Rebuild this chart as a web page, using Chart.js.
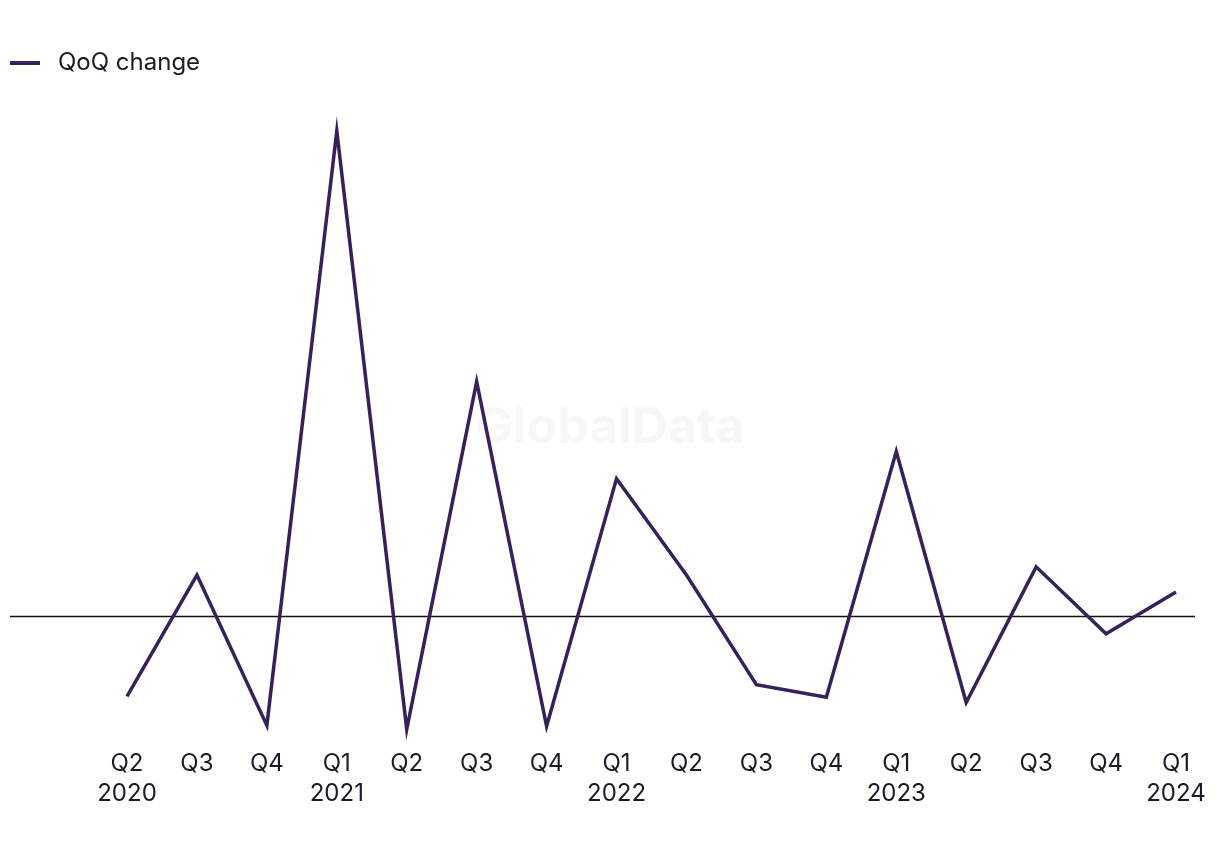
<!DOCTYPE html>
<html>
<head>
<meta charset="utf-8">
<script src="https://cdn.jsdelivr.net/npm/chart.js@4.4.1/dist/chart.umd.min.js"></script>
<style>
  html, body { margin: 0; padding: 0; background: #ffffff; }
  #wrap { width: 1220px; height: 850px; position: relative; }
</style>
</head>
<body>
<div id="wrap"><canvas id="c" width="1220" height="850"></canvas></div>
<script>
const quarters = ["Q2","Q3","Q4","Q1","Q2","Q3","Q4","Q1","Q2","Q3","Q4","Q1","Q2","Q3","Q4","Q1"];
const years    = ["2020","","","2021","","","","2022","","","","2023","","","","2024"];
const qoqChange = [-16.6, 8.4, -22.6, 100.0, -23.4, 48.3, -22.8, 28.3, 8.4, -14.2, -16.8, 33.9, -17.9, 10.1, -3.7, 4.9];
const seriesName = "QoQ change";

const labels = quarters.map((q, i) => years[i] ? [q, years[i]] : [q]);

const lineColor = "#37215a";
const textColor = "#1a1a28";
const fontFamily = "Inter, 'Noto Sans', sans-serif";

// legend marker: a 30px line inside a 36px-wide image
const marker = document.createElement("canvas");
marker.width = 36; marker.height = 4;
(function () {
  const m = marker.getContext("2d");
  m.fillStyle = lineColor;
  m.fillRect(0, 0, 30, 4);
})();

const extras = {
  id: "extras",
  beforeDatasetsDraw(chart) {
    const { ctx, chartArea, scales } = chart;
    ctx.save();
    ctx.font = "bold 50px " + fontFamily;
    ctx.fillStyle = "rgba(0,0,0,0.03)";
    ctx.textAlign = "center";
    ctx.textBaseline = "middle";
    ctx.fillText("GlobalData", 610, 428);
    const y0 = Math.round(scales.y.getPixelForValue(0)) + 0.5;
    ctx.strokeStyle = "#111111";
    ctx.lineWidth = 1.5;
    ctx.beginPath();
    ctx.moveTo(10, y0);
    ctx.lineTo(chartArea.right + 19, y0);
    ctx.stroke();
    ctx.restore();
  }
};

new Chart(document.getElementById("c"), {
  type: "line",
  data: {
    labels: labels,
    datasets: [{
      label: seriesName,
      data: qoqChange,
      borderColor: lineColor,
      backgroundColor: lineColor,
      borderWidth: 3.5,
      pointRadius: 0,
      pointStyle: marker,
      tension: 0,
      fill: false,
      clip: false
    }]
  },
  options: {
    responsive: false,
    animation: false,
    devicePixelRatio: 1,
    layout: { padding: { top: 41, right: 44, bottom: 37, left: 0 } },
    plugins: {
      legend: {
        display: true,
        position: "top",
        align: "start",
        labels: {
          usePointStyle: true,
          pointStyleWidth: 36,
          padding: 10,
          color: textColor,
          font: { family: fontFamily, size: 24 }
        }
      },
      tooltip: { enabled: false }
    },
    scales: {
      x: {
        type: "category",
        offset: false,
        grid: { display: false },
        border: { display: false },
        ticks: {
          color: textColor,
          font: { family: fontFamily, size: 24, lineHeight: 1.25 },
          maxRotation: 0,
          autoSkip: false,
          padding: 4
        }
      },
      y: {
        min: -25,
        max: 109.5,
        grid: { display: false },
        border: { display: false },
        ticks: { display: false },
        afterFit(scale) { scale.width = 127; }
      }
    }
  },
  plugins: [extras]
});
</script>
</body>
</html>
